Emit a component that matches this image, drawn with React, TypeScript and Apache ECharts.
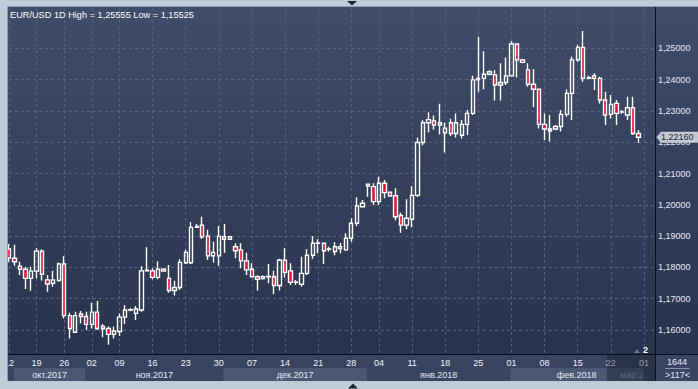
import React, { useEffect, useRef } from 'react';
import * as echarts from 'echarts';

const FONT = '"Liberation Sans", Arial, sans-serif';

// trading days shown on the chart (one candle each)
const octDays = [12, 13, 16, 17, 18, 19, 20, 23, 24, 25, 26, 27, 30, 31];
const novDays = [1, 2, 3, 6, 7, 8, 9, 10, 12, 13, 14, 15, 16, 17, 19, 20, 21, 22, 23, 24, 26, 27, 28, 29, 30];
const decDays = [1, 3, 4, 5, 6, 7, 8, 10, 11, 12, 13, 14, 15, 17, 18, 19, 20, 21, 22, 24, 25, 26, 27, 28, 29, 31];
const janDays = [2, 3, 4, 5, 7, 8, 9, 10, 11, 12, 14, 15, 16, 17, 18, 19, 21, 22, 23, 24, 25, 26, 28, 29, 30, 31];
const febDays = [1, 2, 4, 5, 6, 7, 8, 9, 11, 12, 13, 14, 15, 16, 18, 19, 20, 21, 22, 23, 25, 26, 27, 28];
const marDays = [1, 2, 4]; // empty future slots

const pad = (d: number) => (d < 10 ? '0' + d : '' + d);
const categories: string[] = [
  ...octDays.map((d) => `2017-10-${pad(d)}`),
  ...novDays.map((d) => `2017-11-${pad(d)}`),
  ...decDays.map((d) => `2017-12-${pad(d)}`),
  ...janDays.map((d) => `2018-01-${pad(d)}`),
  ...febDays.map((d) => `2018-02-${pad(d)}`),
  ...marDays.map((d) => `2018-03-${pad(d)}`),
];

const weekLabels = [
  '2017-10-12', '2017-10-19', '2017-10-26', '2017-11-02', '2017-11-09', '2017-11-16', '2017-11-23',
  '2017-11-30', '2017-12-07', '2017-12-14', '2017-12-21', '2017-12-28', '2018-01-04', '2018-01-11',
  '2018-01-18', '2018-01-25', '2018-02-01', '2018-02-08', '2018-02-15', '2018-02-22', '2018-03-01',
];

const monthStarts = ['2017-10-12', '2017-11-01', '2017-12-01', '2018-01-02', '2018-02-01', '2018-03-01'];
const monthNames = ['окт.2017', 'ноя.2017', 'дек.2017', 'янв.2018', 'фев.2018', 'мар.2'];

const opens = [
  1.1859, 1.1829, 1.1804, 1.1794, 1.1765, 1.1788, 1.1852, 1.1760, 1.1749, 1.1758,
  1.1811, 1.1646, 1.1593, 1.1651, 1.1643, 1.1618, 1.1657, 1.1611, 1.1605, 1.1586,
  1.1595, 1.1641, 1.1664, 1.1653, 1.1664, 1.1789, 1.1789, 1.1768, 1.1794, 1.1765,
  1.1726, 1.1736, 1.1815, 1.1815, 1.1928, 1.1935, 1.1900, 1.1837, 1.1837, 1.1898,
  1.1890, 1.1866, 1.1856, 1.1821, 1.1794, 1.1770, 1.1764, 1.1770, 1.1770, 1.1742,
  1.1823, 1.1789, 1.1752, 1.1746, 1.1781, 1.1839, 1.1877, 1.1877, 1.1858, 1.1851,
  1.1866, 1.1856, 1.1893, 1.1941, 1.1994, 1.2066, 1.2058, 1.2010, 1.2069, 1.2040,
  1.2029, 1.1966, 1.1935, 1.1954, 1.2030, 1.2199, 1.2262, 1.2268, 1.2255, 1.2230,
  1.2262, 1.2228, 1.2222, 1.2257, 1.2292, 1.2399, 1.2404, 1.2417, 1.2415, 1.2383,
  1.2391, 1.2412, 1.2514, 1.2463, 1.2431, 1.2385, 1.2369, 1.2257, 1.2242, 1.2242,
  1.2250, 1.2289, 1.2356, 1.2463, 1.2503, 1.2404, 1.2412, 1.2404, 1.2335, 1.2289,
  1.2324, 1.2296, 1.2287, 1.2310, 1.2228,
];
const closes = [
  1.1830, 1.1818, 1.1794, 1.1765, 1.1788, 1.1852, 1.1778, 1.1747, 1.1760, 1.1811,
  1.1646, 1.1605, 1.1646, 1.1643, 1.1618, 1.1657, 1.1605, 1.1604, 1.1586, 1.1597,
  1.1641, 1.1664, 1.1665, 1.1667, 1.1789, 1.1791, 1.1768, 1.1794, 1.1788, 1.1726,
  1.1736, 1.1816, 1.1848, 1.1928, 1.1931, 1.1898, 1.1837, 1.1848, 1.1900, 1.1890,
  1.1898, 1.1853, 1.1821, 1.1792, 1.1770, 1.1762, 1.1770, 1.1771, 1.1742, 1.1823,
  1.1784, 1.1752, 1.1753, 1.1781, 1.1839, 1.1877, 1.1878, 1.1853, 1.1859, 1.1866,
  1.1860, 1.1893, 1.1941, 1.1996, 1.2005, 1.2060, 1.2010, 1.2069, 1.2039, 1.2028,
  1.1962, 1.1935, 1.1957, 1.2030, 1.2199, 1.2262, 1.2272, 1.2255, 1.2262, 1.2245,
  1.2228, 1.2262, 1.2257, 1.2292, 1.2399, 1.2404, 1.2417, 1.2425, 1.2383, 1.2391,
  1.2412, 1.2514, 1.2463, 1.2455, 1.2385, 1.2369, 1.2257, 1.2242, 1.2236, 1.2250,
  1.2289, 1.2356, 1.2463, 1.2503, 1.2404, 1.2406, 1.2404, 1.2335, 1.2287, 1.2321,
  1.2292, 1.2297, 1.2310, 1.2228, 1.2216,
];
const lows = [
  1.1817, 1.1805, 1.1776, 1.1731, 1.1725, 1.1765, 1.1758, 1.1722, 1.1738, 1.1754,
  1.1637, 1.1573, 1.1590, 1.1621, 1.1600, 1.1605, 1.1600, 1.1577, 1.15525, 1.1573,
  1.1581, 1.1619, 1.1660, 1.1632, 1.1658, 1.1786, 1.1762, 1.1762, 1.1786, 1.1719,
  1.1710, 1.1728, 1.1811, 1.1811, 1.1927, 1.1891, 1.1824, 1.1815, 1.1805, 1.1847,
  1.1888, 1.1829, 1.1797, 1.1776, 1.1768, 1.1726, 1.1761, 1.1749, 1.1714, 1.1726,
  1.1768, 1.1744, 1.1744, 1.1738, 1.1775, 1.1828, 1.1845, 1.1811, 1.1851, 1.1839,
  1.1845, 1.1853, 1.1882, 1.1932, 1.1991, 1.2026, 1.1999, 1.1999, 1.2021, 1.2026,
  1.1951, 1.1911, 1.1922, 1.1928, 1.2025, 1.2190, 1.2232, 1.2240, 1.2225, 1.2167,
  1.2220, 1.2215, 1.2212, 1.2223, 1.2287, 1.2361, 1.2369, 1.2414, 1.2333, 1.2333,
  1.2383, 1.2409, 1.2407, 1.2452, 1.2377, 1.2312, 1.2244, 1.2207, 1.2202, 1.2238,
  1.2234, 1.2281, 1.2271, 1.2457, 1.2393, 1.2401, 1.2367, 1.2324, 1.2255, 1.2276,
  1.2255, 1.2290, 1.2271, 1.2223, 1.2198,
];
const highs = [
  1.1875, 1.1872, 1.1818, 1.1802, 1.1802, 1.1861, 1.1858, 1.1776, 1.1789, 1.1816,
  1.1836, 1.1655, 1.1658, 1.1661, 1.1658, 1.1687, 1.1693, 1.1619, 1.1611, 1.1611,
  1.1653, 1.1680, 1.1670, 1.1677, 1.1804, 1.1864, 1.1797, 1.1820, 1.1797, 1.1808,
  1.1757, 1.1826, 1.1856, 1.1945, 1.1939, 1.1962, 1.1920, 1.1882, 1.1932, 1.1939,
  1.1900, 1.1877, 1.1877, 1.1847, 1.1813, 1.1776, 1.1775, 1.1811, 1.1789, 1.1828,
  1.1861, 1.1813, 1.1760, 1.1834, 1.1858, 1.1900, 1.1890, 1.1878, 1.1866, 1.1880,
  1.1878, 1.1909, 1.1957, 1.2024, 1.2015, 1.2068, 1.2069, 1.2090, 1.2079, 1.2041,
  1.2053, 1.1975, 1.2018, 1.2060, 1.2215, 1.2270, 1.2296, 1.2285, 1.2323, 1.2262,
  1.2275, 1.2292, 1.2271, 1.2303, 1.2412, 1.2537, 1.2491, 1.2431, 1.2431, 1.2452,
  1.2471, 1.2523, 1.2516, 1.2466, 1.2452, 1.2433, 1.2371, 1.2292, 1.2287, 1.2255,
  1.2303, 1.2369, 1.2473, 1.2511, 1.25555, 1.2412, 1.2420, 1.2409, 1.2361, 1.2351,
  1.2335, 1.2303, 1.2345, 1.2345, 1.2239,
];

const priceTicks = [1.16, 1.17, 1.18, 1.19, 1.2, 1.21, 1.22, 1.23, 1.24, 1.25];
const Y_MIN = 1.15233;
const Y_MAX = 1.26288;

const candleData = opens.map((o, i) => [o, closes[i], lows[i], highs[i]]);
const fmt = (v: number) => v.toFixed(5).replace('.', ',');
const GRID = '#55627e';

export default function App() {
  const ref = useRef<HTMLDivElement>(null);
  useEffect(() => {
    const chart = echarts.init(ref.current!, undefined, { renderer: 'svg' });
    const splitColors = ['rgba(0,0,0,0)', ...priceTicks.map(() => GRID), 'rgba(0,0,0,0)', 'rgba(0,0,0,0)'];
    chart.setOption({
      animation: false,
      backgroundColor: '#c0cbd8',
      grid: { left: 9, right: 43, top: 8, bottom: 35, show: false },
      xAxis: {
        type: 'category',
        data: categories,
        boundaryGap: false,
        axisLine: { show: false },
        axisTick: { show: false },
        axisLabel: {
          interval: (_i: number, v: string) => weekLabels.includes(v),
          formatter: (v: string) => v.slice(8),
          color: '#eef2f8',
          fontSize: 9,
          fontFamily: FONT,
          margin: 4,
        },
        splitLine: {
          show: true,
          interval: (_i: number, v: string) => weekLabels.includes(v),
          lineStyle: { color: GRID, type: [3, 3], width: 1 },
        },
      },
      yAxis: {
        type: 'value',
        position: 'right',
        min: Y_MIN,
        max: Y_MAX,
        splitNumber: 11,
        minInterval: 0.01,
        maxInterval: 0.01,
        axisLine: { show: false },
        axisTick: { show: false },
        axisLabel: {
          formatter: (v: number) => (v > 1.1599 && v < 1.2501 ? fmt(v) : ''),
          color: '#e4eaf4',
          fontSize: 9,
          fontFamily: FONT,
          margin: 3,
        },
        splitLine: { show: true, lineStyle: { color: splitColors, type: [3, 3], width: 1 } },
      },
      series: [
        {
          type: 'candlestick',
          data: candleData,
          barWidth: 3.8,
          itemStyle: {
            color: 'rgba(0,0,0,0)',
            color0: '#e8133c',
            borderColor: '#ffffff',
            borderColor0: '#ffffff',
            borderWidth: 1.4,
          },
        },
      ],
    });

    const px = (c: string) => chart.convertToPixel({ xAxisIndex: 0 }, c) as number;
    const py = (v: number) => chart.convertToPixel({ yAxisIndex: 0 }, v) as number;
    const R = 655.5;
    const gradient = {
      type: 'linear', x: 0, y: 0, x2: 0, y2: 1,
      colorStops: [
        { offset: 0, color: '#404d69' },
        { offset: 1, color: '#28334d' },
      ],
    };
    const els: any[] = [];
    // backgrounds
    els.push({ type: 'rect', z: -10, shape: { x: 8, y: 7, width: 690, height: 348 }, style: { fill: gradient } });
    els.push({ type: 'rect', z: -10, shape: { x: 8, y: 355, width: 690, height: 26 }, style: { fill: '#394560' } });
    // month bands
    const starts = monthStarts.map((m, k) => (k === 0 ? 14 : px(m) - 1));
    monthNames.forEach((name, k) => {
      const x0 = starts[k];
      const x1 = k < monthNames.length - 1 ? starts[k + 1] : R;
      const light = k % 2 === 0;
      els.push({
        type: 'rect', z: -9,
        shape: { x: x0, y: 368, width: x1 - x0, height: 13 },
        style: { fill: light ? '#4b5873' : '#394560' },
      });
      if (k < monthNames.length - 1) {
        els.push({
          type: 'text', z: 5,
          x: (x0 + x1) / 2, y: 374.5,
          style: { text: name, fill: '#e4eaf3', fontSize: 9, fontFamily: FONT, align: 'center', verticalAlign: 'middle' },
        });
      } else {
        els.push({
          type: 'text', z: 5,
          x: 620, y: 374.5,
          style: { text: name, fill: '#8f9ab0', fontSize: 9, fontFamily: FONT, align: 'left', verticalAlign: 'middle' },
        });
      }
    });
    // dim overlay at right of date rows
    els.push({ type: 'rect', z: 50, shape: { x: 607, y: 355, width: R - 607, height: 26 }, style: { fill: 'rgba(22,30,48,0.45)' } });
    // frame
    els.push({ type: 'rect', z: 60, shape: { x: 0, y: 0, width: 698, height: 6.5 }, style: { fill: '#c0cbd8' } });
    els.push({ type: 'rect', z: 60, shape: { x: 0, y: 0, width: 7.5, height: 389 }, style: { fill: '#c0cbd8' } });
    els.push({ type: 'rect', z: 60, shape: { x: 0, y: 381, width: 698, height: 8 }, style: { fill: '#c0cbd8' } });
    els.push({ type: 'polyline', z: 61, shape: { points: [[7.5, 381], [7.5, 6.5], [698, 6.5]] }, style: { stroke: '#8e9bb0', lineWidth: 1, fill: null } });
    els.push({ type: 'polygon', z: 61, shape: { points: [[347, 1], [357, 1], [352, 5.5]] }, style: { fill: '#1b2538' } });
    els.push({ type: 'polygon', z: 61, shape: { points: [[348, 388.5], [358, 388.5], [353, 383.5]] }, style: { fill: '#1b2538' } });
    // axis separators
    els.push({ type: 'line', z: 55, shape: { x1: 8, y1: 354.5, x2: 698, y2: 354.5 }, style: { stroke: '#0a0e16', lineWidth: 1 } });
    els.push({ type: 'line', z: 55, shape: { x1: R, y1: 7, x2: R, y2: 381 }, style: { stroke: '#0a0e16', lineWidth: 1 } });
    // bottom-right counter
    els.push({ type: 'rect', z: 52, shape: { x: 656, y: 355, width: 42, height: 26 }, style: { fill: '#394560' } });
    els.push({ type: 'text', z: 56, x: 677, y: 361.5, style: { text: '1644', fill: '#e4eaf3', fontSize: 9, fontFamily: FONT, align: 'center', verticalAlign: 'middle' } });
    els.push({ type: 'line', z: 56, shape: { x1: 665, y1: 368.5, x2: 690, y2: 368.5 }, style: { stroke: '#8793aa', lineWidth: 1 } });
    els.push({ type: 'text', z: 56, x: 677.5, y: 375, style: { text: '>117<', fill: '#e4eaf3', fontSize: 9, fontFamily: FONT, align: 'center', verticalAlign: 'middle' } });
    // small marker bottom right of plot
    els.push({ type: 'polygon', z: 20, shape: { points: [[634, 353], [640, 353], [637, 349]] }, style: { fill: '#6b7690' } });
    els.push({ type: 'text', z: 20, x: 643, y: 350, style: { text: '2', fill: '#ffffff', fontSize: 9, fontWeight: 'bold', fontFamily: FONT, verticalAlign: 'middle' } });
    // title
    els.push({ type: 'text', z: 20, x: 10, y: 15, style: { text: 'EUR/USD 1D High = 1,25555 Low = 1,15525', fill: '#ffffff', fontSize: 9.2, fontFamily: FONT, verticalAlign: 'middle' } });
    // last price tag
    const last = closes[closes.length - 1];
    const ty = py(last);
    els.push({
      type: 'polygon', z: 58,
      shape: { points: [[656.5, ty], [661, ty - 5.5], [698, ty - 5.5], [698, ty + 5.5], [661, ty + 5.5]] },
      style: { fill: '#c4c9d1' },
    });
    els.push({ type: 'text', z: 59, x: 661, y: ty, style: { text: fmt(last), fill: '#1c2435', fontSize: 9, fontFamily: FONT, verticalAlign: 'middle' } });

    chart.setOption({ graphic: { elements: els } });
    return () => chart.dispose();
  }, []);
  return <div ref={ref} style={{ position: 'fixed', left: 0, top: 0, width: 698, height: 389 }} />;
}
